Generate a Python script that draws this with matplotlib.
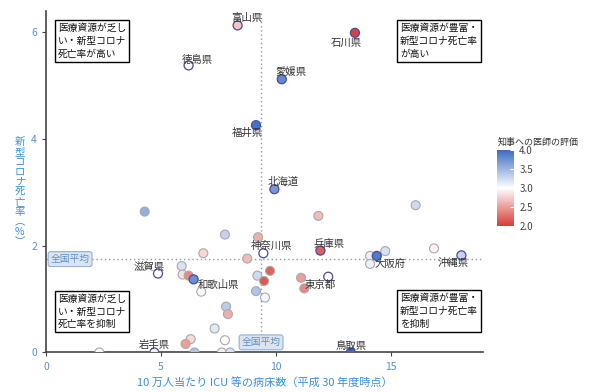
import matplotlib
matplotlib.use('Agg')
import numpy as np
import matplotlib.pyplot as plt
from matplotlib.colors import LinearSegmentedColormap

plt.rcParams['font.family'] = ['Noto Sans CJK JP', 'DejaVu Sans']

# labelled prefectures
pref_names = ['富山県', '石川県', '徳島県', '愛媛県', '福井県', '北海道', '神奈川県', '兵庫県',
              '大阪府', '沖縄県', '滋賀県', '和歌山県', '東京都', '岩手県', '鳥取県']
pref_beds = [8.33, 13.43, 6.20, 10.25, 9.13, 9.93, 9.45, 11.93,
             14.38, 18.06, 4.87, 6.42, 12.27, 4.71, 13.25]
pref_death = [6.13, 5.99, 5.38, 5.12, 4.26, 3.06, 1.86, 1.91,
              1.81, 1.82, 1.48, 1.37, 1.42, 0.0, 0.0]
pref_rating = [2.7, 2.05, 3.0, 3.8, 3.95, 3.7, 3.0, 2.2,
               3.9, 3.3, 3.0, 3.75, 3.0, 3.1, 4.0]

# other prefectures (no label)
other_beds = [4.29, 7.78, 6.84, 8.75, 5.90, 5.94, 6.20, 6.75, 7.83, 7.91, 7.33, 7.78,
              6.29, 6.07, 2.32, 6.46, 7.64, 8.00, 16.07, 11.84, 9.22, 16.87, 14.75,
              14.09, 14.09, 9.19, 9.74, 9.48, 9.13, 9.52, 11.09, 11.23]
other_death = [2.64, 2.21, 1.86, 1.76, 1.62, 1.46, 1.44, 1.14, 0.86, 0.72, 0.45, 0.23,
               0.25, 0.16, 0.0, 0.0, 0.0, 0.0, 2.76, 2.56, 2.16, 1.95, 1.90,
               1.81, 1.66, 1.44, 1.53, 1.34, 1.15, 1.03, 1.40, 1.20]
other_rating = [3.55, 3.3, 2.8, 2.65, 3.2, 2.85, 2.4, 3.05, 3.35, 2.6, 3.15, 3.0,
                2.8, 2.5, 3.05, 3.4, 3.1, 3.2, 3.25, 2.65, 2.6, 2.95, 3.2,
                3.1, 3.1, 3.25, 2.2, 2.15, 3.4, 3.05, 2.5, 2.4]

avg_beds = 9.35
avg_death = 1.75

# label offsets in pixels (dx, dy, ha)
label_pos = {
    '富山県': (9, 7, 'center'), '石川県': (-9, -10, 'center'), '徳島県': (9, 6, 'center'),
    '愛媛県': (9, 7, 'center'), '福井県': (-9, -8, 'center'), '北海道': (9, 7, 'center'),
    '神奈川県': (8, 7, 'center'), '兵庫県': (9, 7, 'center'), '大阪府': (13, -8, 'center'),
    '沖縄県': (-8, -8, 'center'), '滋賀県': (-9, 7, 'center'), '和歌山県': (4, -6, 'left'),
    '東京都': (-8, -8, 'center'), '岩手県': (0, 7, 'center'), '鳥取県': (0, 6, 'center'),
}

cmap = LinearSegmentedColormap.from_list('rb', ['#d63b33', '#ffffff', '#3a6ec2'])
tick_col = '#5a8fd2'
lab_col = '#3c8ede'

fig = plt.figure(figsize=(5.95, 3.92), dpi=100)
ax = fig.add_axes([0.0773, 0.1008, 0.7345, 0.8712])

ax.axvline(avg_beds, color='#999999', lw=1.0, ls=(0, (1, 2)), zorder=1)
ax.axhline(avg_death, color='#999999', lw=1.0, ls=(0, (1, 2)), zorder=1)

ax.scatter(other_beds, other_death, c=other_rating, cmap=cmap, vmin=2, vmax=4,
           s=42, edgecolors='#aaaaaa', linewidths=0.8, zorder=3)
sc = ax.scatter(pref_beds, pref_death, c=pref_rating, cmap=cmap, vmin=2, vmax=4,
                s=42, edgecolors='#4b4b9b', linewidths=0.9, zorder=4)

for name, bx, dy in zip(pref_names, pref_beds, pref_death):
    dx, ddy, ha = label_pos[name]
    ax.annotate(name, (bx, dy), xytext=(dx * 0.72, ddy * 0.72), textcoords='offset points',
                ha=ha, va='center', fontsize=7.5, color='#333333', zorder=5)

box = dict(boxstyle='round,pad=0.25', fc='#dce5ef', ec='#8fb2d6', lw=0.8)
ax.text(0.2, avg_death, '全国平均', fontsize=7, color='#5b8fc8', ha='left', va='center',
        bbox=box, zorder=6)
ax.text(avg_beds, 0.19, '全国平均', fontsize=7, color='#5b8fc8', ha='center', va='center',
        bbox=box, zorder=6)

qbox = dict(boxstyle='square,pad=0.3', fc='white', ec='black', lw=1.0)
quads = [
    (0.52, 6.17, '医療資源が乏し\nい・新型コロナ\n死亡率が高い'),
    (15.39, 6.17, '医療資源が豊富・\n新型コロナ死亡率\nが高い'),
    (0.52, 1.10, '医療資源が乏し\nい・新型コロナ\n死亡率を抑制'),
    (15.39, 1.11, '医療資源が豊富・\n新型コロナ死亡率\nを抑制'),
]
for qx, qy, qt in quads:
    ax.text(qx, qy, qt, fontsize=7, color='#111111', ha='left', va='top',
            linespacing=1.35, bbox=qbox, zorder=7)

ax.set_xlim(0, 19)
ax.set_ylim(0, 6.4)
ax.set_xticks([0, 5, 10, 15])
ax.set_yticks([0, 2, 4, 6])
ax.tick_params(colors='#444444', labelcolor=tick_col, labelsize=7.5, length=3, width=0.8)
for side in ['top', 'right']:
    ax.spines[side].set_visible(False)
for side in ['left', 'bottom']:
    ax.spines[side].set_color('#444444')
    ax.spines[side].set_linewidth(1.2)

ax.set_xlabel('10 万人当たり ICU 等の病床数（平成 30 年度時点）', fontsize=8, color=lab_col, labelpad=4)
ax.set_ylabel('\n'.join('新型コロナ死亡率') + '\n︵\n%\n︶', fontsize=7.5, color=lab_col,
              rotation=0, va='center', ha='center', linespacing=1.0)
ax.yaxis.set_label_coords(-0.06, 0.47)

cax = fig.add_axes([0.8358, 0.4235, 0.0286, 0.1935])
cb = fig.colorbar(sc, cax=cax, ticks=[2.0, 2.5, 3.0, 3.5, 4.0])
cb.ax.set_yticklabels(['2.0', '2.5', '3.0', '3.5', '4.0'])
cb.outline.set_visible(False)
cb.ax.tick_params(labelsize=7, labelcolor='#444444', color='white', length=3, direction='in')
cax.set_title('知事への医師の評価', fontsize=6.5, color='#333333', loc='left', pad=4)

fig.savefig('out.png', dpi=100, facecolor='white')
